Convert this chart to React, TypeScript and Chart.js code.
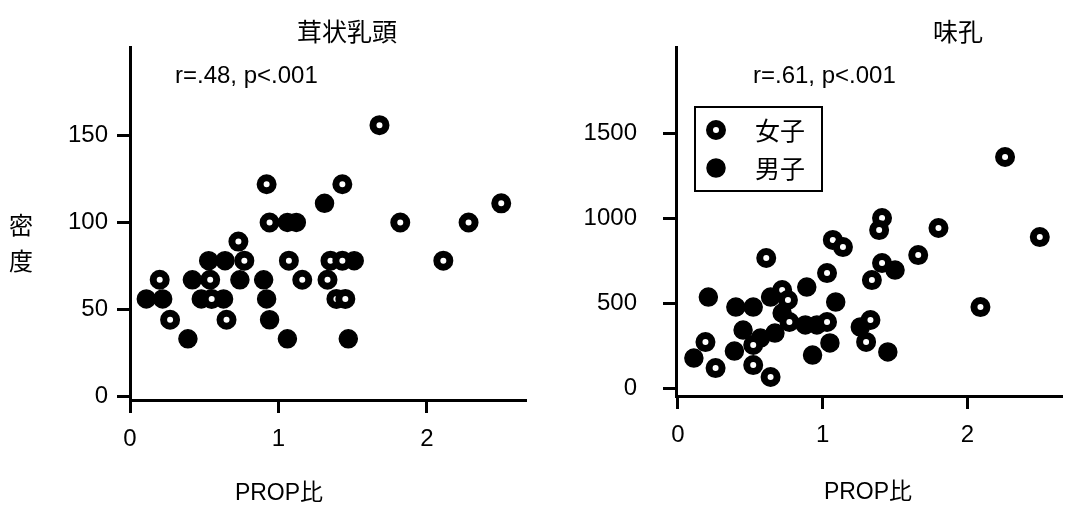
import React, { useEffect, useRef } from "react";
import { Chart, registerables } from "chart.js";

Chart.register(...registerables);

// ---------- data ----------
const xTicks = [0, 1, 2];
const leftYTicks = [0, 50, 100, 150];
const rightYTicks = [0, 500, 1000, 1500];

const seriesLabels = ["女子", "男子"];

// 茸状乳頭 (fungiform papillae density) vs PROP ratio
const leftFemale: [number, number][] = [
  [1.68, 156], [0.92, 122], [1.43, 122], [2.5, 111], [0.94, 100], [1.82, 100],
  [2.28, 100], [0.73, 89], [0.77, 78], [1.07, 78], [1.35, 78], [1.43, 78],
  [2.11, 78], [0.2, 67], [0.54, 67], [1.16, 67], [1.33, 67], [0.55, 56],
  [1.39, 56], [1.45, 56], [0.27, 44], [0.65, 44],
];
const leftMale: [number, number][] = [
  [1.31, 111], [1.06, 100], [1.12, 100], [0.53, 78], [0.64, 78], [1.51, 78],
  [0.42, 67], [0.74, 67], [0.9, 67], [0.11, 56], [0.22, 56], [0.48, 56],
  [0.63, 56], [0.92, 56], [0.94, 44], [0.39, 33], [1.06, 33], [1.47, 33],
];

// 味孔 (taste pores density) vs PROP ratio
const rightFemale: [number, number][] = [
  [1.07, 874], [1.14, 832], [0.61, 768], [1.03, 679], [0.72, 579], [0.76, 521],
  [0.77, 391], [1.03, 391], [0.52, 256], [0.19, 273], [0.26, 120], [0.52, 138],
  [0.64, 68], [2.26, 1362], [1.41, 1003], [1.39, 932], [1.8, 944], [1.66, 785],
  [1.34, 638], [1.41, 738], [2.5, 891], [2.09, 479], [1.33, 403], [1.3, 274],
];
const rightMale: [number, number][] = [
  [0.11, 179], [0.21, 538], [0.4, 479], [0.52, 479], [0.64, 538], [0.89, 597],
  [1.09, 509], [0.72, 444], [0.88, 374], [0.96, 374], [0.45, 344], [0.57, 297],
  [0.67, 326], [0.39, 220], [0.93, 197], [1.05, 268], [1.26, 362], [1.45, 215],
  [1.5, 697],
];

// ---------- styles ----------
const LATIN = "'Liberation Sans', Arial, 'Noto Sans CJK JP', sans-serif";
const CJK = "'Noto Sans CJK JP', 'Liberation Sans', sans-serif";

const openStyle = {
  pointStyle: "circle" as const,
  pointRadius: 6.5,
  pointBorderWidth: 7,
  pointBackgroundColor: "#ffffff",
  pointBorderColor: "#000000",
};
const filledStyle = {
  pointStyle: "circle" as const,
  pointRadius: 9,
  pointBorderWidth: 1.5,
  pointBackgroundColor: "#000000",
  pointBorderColor: "#000000",
};

type TextItem = { text: string; x: number; y: number; font: string; align: CanvasTextAlign };

function textPlugin(texts: TextItem[], legend?: { x: number; y: number; w: number; h: number }) {
  return {
    id: "customTexts",
    afterDraw(chart: any) {
      const ctx: CanvasRenderingContext2D = chart.ctx;
      ctx.save();
      ctx.fillStyle = "#000";
      ctx.textBaseline = "middle";
      for (const t of texts) {
        ctx.font = t.font;
        ctx.textAlign = t.align;
        ctx.fillText(t.text, t.x, t.y);
      }
      if (legend) {
        ctx.lineWidth = 2;
        ctx.strokeStyle = "#000";
        ctx.fillStyle = "#fff";
        ctx.fillRect(legend.x, legend.y, legend.w, legend.h);
        ctx.strokeRect(legend.x, legend.y, legend.w, legend.h);
        const ds = chart.data.datasets;
        ds.forEach((d: any, i: number) => {
          const cy = legend.y + 23 + i * 38;
          const cx = legend.x + 21;
          ctx.beginPath();
          ctx.arc(cx, cy, d.pointRadius, 0, Math.PI * 2);
          ctx.fillStyle = d.pointBackgroundColor;
          ctx.fill();
          ctx.lineWidth = d.pointBorderWidth;
          ctx.strokeStyle = d.pointBorderColor;
          ctx.stroke();
          ctx.fillStyle = "#000";
          ctx.font = `25px ${CJK}`;
          ctx.textAlign = "left";
          ctx.fillText(d.label, legend.x + 60, cy);
        });
      }
      ctx.restore();
    },
  };
}

function makeConfig(opts: {
  female: [number, number][];
  male: [number, number][];
  xMin: number;
  xMax: number;
  yMin: number;
  yMax: number;
  yTicks: number[];
  yWidth: number;
  yPad: number;
  xHeight: number;
  padRight: number;
  texts: TextItem[];
  legend?: { x: number; y: number; w: number; h: number };
}) {
  const tickFont = { family: LATIN, size: 24 };
  const grid = {
    display: true,
    drawOnChartArea: false,
    drawTicks: true,
    tickLength: 13,
    tickWidth: 3,
    tickColor: "#000",
    lineWidth: 3,
    color: "#000",
  };
  const border = { display: true, width: 3, color: "#000" };
  const plain = (v: any) => String(v);
  return {
    type: "scatter" as const,
    data: {
      datasets: [
        { label: seriesLabels[0], data: opts.female.map(([x, y]) => ({ x, y })), ...openStyle },
        { label: seriesLabels[1], data: opts.male.map(([x, y]) => ({ x, y })), ...filledStyle },
      ],
    },
    options: {
      responsive: false,
      animation: false as const,
      events: [] as any[],
      layout: { padding: { top: 47, right: opts.padRight, left: 0, bottom: 0 } },
      plugins: { legend: { display: false }, tooltip: { enabled: false }, title: { display: false } },
      scales: {
        x: {
          type: "linear" as const,
          min: opts.xMin,
          max: opts.xMax,
          afterBuildTicks: (scale: any) => {
            scale.ticks = xTicks.map((v) => ({ value: v }));
          },
          afterFit: (scale: any) => {
            scale.height = opts.xHeight;
          },
          ticks: { font: tickFont, color: "#000", padding: 12, maxRotation: 0, callback: plain },
          grid,
          border,
        },
        y: {
          type: "linear" as const,
          min: opts.yMin,
          max: opts.yMax,
          afterBuildTicks: (scale: any) => {
            scale.ticks = opts.yTicks.map((v) => ({ value: v }));
          },
          afterFit: (scale: any) => {
            scale.width = opts.yWidth;
          },
          ticks: { font: tickFont, color: "#000", padding: opts.yPad, callback: plain },
          grid,
          border,
        },
      },
    },
    plugins: [textPlugin(opts.texts, opts.legend)],
  };
}

export default function App() {
  const leftRef = useRef<HTMLCanvasElement>(null);
  const rightRef = useRef<HTMLCanvasElement>(null);

  useEffect(() => {
    const left = new Chart(
      leftRef.current!,
      makeConfig({
        female: leftFemale,
        male: leftMale,
        xMin: 0,
        xMax: 2.66,
        yMin: -2.2,
        yMax: 201,
        yTicks: leftYTicks,
        yWidth: 130,
        yPad: 9,
        xHeight: 108,
        padRight: 15,
        texts: [
          { text: "茸状乳頭", x: 347, y: 31, font: `25px ${CJK}`, align: "center" },
          { text: "r=.48, p<.001", x: 175, y: 76, font: `24px ${LATIN}`, align: "left" },
          { text: "密", x: 21, y: 225, font: `24px ${CJK}`, align: "center" },
          { text: "度", x: 21, y: 261, font: `24px ${CJK}`, align: "center" },
          { text: "PROP比", x: 279, y: 494, font: `23px ${LATIN}`, align: "center" },
        ],
      }) as any
    );
    const right = new Chart(
      rightRef.current!,
      makeConfig({
        female: rightFemale,
        male: rightMale,
        xMin: -0.0135,
        xMax: 2.65,
        yMin: -44,
        yMax: 2009,
        yTicks: rightYTicks,
        yWidth: 136,
        yPad: 26,
        xHeight: 112,
        padRight: 5,
        texts: [
          { text: "味孔", x: 418, y: 31, font: `25px ${CJK}`, align: "center" },
          { text: "r=.61, p<.001", x: 213, y: 76, font: `24px ${LATIN}`, align: "left" },
          { text: "PROP比", x: 328, y: 493, font: `23px ${LATIN}`, align: "center" },
        ],
        legend: { x: 155, y: 107, w: 127, h: 84 },
      }) as any
    );
    return () => {
      left.destroy();
      right.destroy();
    };
  }, []);

  return (
    <div style={{ position: "fixed", left: 0, top: 0, width: 1075, height: 508, background: "#fff" }}>
      <canvas ref={leftRef} width={540} height={508} style={{ position: "absolute", left: 0, top: 0 }} />
      <canvas ref={rightRef} width={535} height={508} style={{ position: "absolute", left: 540, top: 0 }} />
    </div>
  );
}
